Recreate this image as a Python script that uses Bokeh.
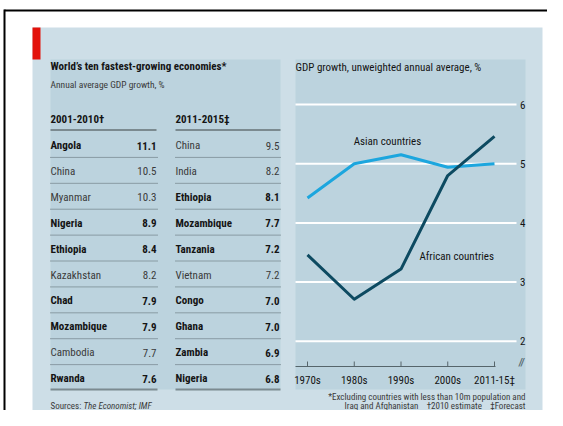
from bokeh.plotting import figure
from bokeh.models import Range1d, ColumnDataSource
from bokeh.core.properties import value
from bokeh.embed import file_html
from bokeh.resources import INLINE

# ---------------- data ----------------
left_countries = ["Angola", "China", "Myanmar", "Nigeria", "Ethiopia", "Kazakhstan",
                  "Chad", "Mozambique", "Cambodia", "Rwanda"]
left_values = [11.1, 10.5, 10.3, 8.9, 8.4, 8.2, 7.9, 7.9, 7.7, 7.6]
left_african = [True, False, False, True, True, False, True, True, False, True]

right_countries = ["China", "India", "Ethiopia", "Mozambique", "Tanzania", "Vietnam",
                   "Congo", "Ghana", "Zambia", "Nigeria"]
right_values = [9.5, 8.2, 8.1, 7.7, 7.2, 7.2, 7.0, 7.0, 6.9, 6.8]
right_african = [False, False, True, True, True, False, True, True, True, True]

periods = ["1970s", "1980s", "1990s", "2000s", "2011-15\u2021"]
asian = [4.42, 5.00, 5.15, 4.94, 5.00]
african = [3.46, 2.71, 3.22, 4.80, 5.46]
y_ticks = [2, 3, 4, 5, 6]

# ---------------- styles ----------------
FONT = value("'Roboto Condensed', 'DejaVu Sans Condensed', Roboto, sans-serif")
OUTER = "#cddee7"
INNER = "#bcd3de"
RED = "#e3120b"
ASIA_C = "#1ca6de"
AFR_C = "#0d4a61"
DARK = "#141414"
GREY_T = "#3a3a3a"
RULE = "#7b8a90"
NB = "\u00a0"

W, H = 547, 410
p = figure(width=W, height=H, output_backend="svg", toolbar_location=None,
           x_range=Range1d(0, W), y_range=Range1d(H, 0),
           x_axis_type=None, y_axis_type=None, min_border=0,
           background_fill_color="white", border_fill_color="white",
           outline_line_color=None)
p.xgrid.visible = False
p.ygrid.visible = False

# period index scale (chart), gdp scale, row scale (table)
px_per_period = 46.75
x0_period = 307.0
px_per_unit = 59.2
y_six = 104.0
row0, row_h = 145.0, 25.9
p.extra_x_ranges = {"per": Range1d((0 - x0_period) / px_per_period,
                                   (W - x0_period) / px_per_period)}
p.extra_y_ranges = {
    "gdp": Range1d(6 - (H - y_six) / px_per_unit, 6 + (y_six - 0) / px_per_unit),
    "rows": Range1d((H - row0) / row_h, (0 - row0) / row_h),
}

# ---------------- frame & panels ----------------
p.segment(x0=4, x1=W, y0=10, y1=10, line_color="black", line_width=2)
p.segment(x0=4, x1=4, y0=9, y1=H, line_color="black", line_width=2)
p.quad(left=32, right=542, top=27, bottom=H, fill_color=OUTER, line_color=None)
p.quad(left=32, right=40, top=27, bottom=59, fill_color=RED, line_color=None)
p.quad(left=[50, 295], right=[280, 525], top=[59, 59], bottom=[389, 389],
       fill_color=INNER, line_color=None)

# ---------------- table ----------------
p.text(x=[50], y=[66], text=["World\u2019s ten fastest-growing economies*"],
       text_font=FONT, text_font_size="11px", text_font_style="bold",
       text_color=DARK, text_baseline="middle")
p.text(x=[50], y=[83.5], text=["Annual average GDP growth, %"],
       text_font=FONT, text_font_size="9.5px", text_color=GREY_T, text_baseline="middle")
p.text(x=[50, 175], y=[119, 119], text=["2001-2010\u2020", "2011-2015\u2021"],
       text_font=FONT, text_font_size="11px", text_font_style="bold",
       text_color=DARK, text_baseline="middle")
p.segment(x0=[50, 175], x1=[156, 280], y0=[129.5, 129.5], y1=[129.5, 129.5],
          line_color=RULE, line_width=2)

rows = list(range(len(left_countries)))
for names, vals, afr, xl, xr in [(left_countries, left_values, left_african, 50, 156),
                                 (right_countries, right_values, right_african, 175, 279)]:
    for bold in (True, False):
        idx = [i for i in rows if afr[i] == bold]
        src = ColumnDataSource(dict(
            r=idx, name=[names[i] for i in idx], val=["%.1f" % vals[i] for i in idx]))
        style = "bold" if bold else "normal"
        col = DARK if bold else GREY_T
        p.text(x=xl, y="r", text="name", source=src, y_range_name="rows",
               text_font=FONT, text_font_size="11px", text_font_style=style,
               text_color=col, text_baseline="middle")
        p.text(x=xr, y="r", text="val", source=src, y_range_name="rows",
               text_font=FONT, text_font_size="11px", text_font_style=style,
               text_color=col, text_baseline="middle", text_align="right")
    seps = [i + 0.46 for i in rows[:-1]]
    p.segment(x0=xl, x1=xr + 1, y0=seps, y1=seps, y_range_name="rows",
              line_color="#56636a", line_width=1, line_dash="1 1")
    p.segment(x0=xl, x1=xr + 1, y0=[rows[-1] + 0.42], y1=[rows[-1] + 0.42],
              y_range_name="rows", line_color=RULE, line_width=2)

p.text(x=[50], y=[405], text=["Sources:"], text_font=FONT, text_font_size="9px",
       text_color=GREY_T, text_baseline="middle")
p.text(x=[83], y=[405], text=["The Economist; IMF"], text_font=FONT, text_font_size="9px",
       text_font_style="italic", text_color=GREY_T, text_baseline="middle")

# ---------------- chart ----------------
p.text(x=[295], y=[67], text=["GDP growth, unweighted annual average, %"],
       text_font=FONT, text_font_size="11px", text_color=DARK, text_baseline="middle")

grid_x0 = (295 - x0_period) / px_per_period
grid_x1 = (516 - x0_period) / px_per_period
p.segment(x0=grid_x0, x1=grid_x1, y0=y_ticks, y1=y_ticks,
          x_range_name="per", y_range_name="gdp", line_color="white", line_width=2)
p.text(x=(525 - x0_period) / px_per_period, y=y_ticks, text=[str(t) for t in y_ticks],
       x_range_name="per", y_range_name="gdp", text_font=FONT, text_font_size="11px",
       text_color=DARK, text_align="right", text_baseline="middle")

base = 6 - (366 - y_six) / px_per_unit
pidx = list(range(len(periods)))
p.segment(x0=grid_x0, x1=(495 - x0_period) / px_per_period, y0=base, y1=base,
          x_range_name="per", y_range_name="gdp", line_color="#56656b", line_width=1)
p.segment(x0=pidx, x1=pidx, y0=base, y1=base + 5 / px_per_unit,
          x_range_name="per", y_range_name="gdp", line_color="#56656b", line_width=1)
p.text(x=pidx, y=base - 14 / px_per_unit, text=periods,
       x_range_name="per", y_range_name="gdp", text_font=FONT, text_font_size="11px",
       text_color=DARK, text_align="center", text_baseline="middle")
p.text(x=[(521 - x0_period) / px_per_period], y=[base + 4 / px_per_unit], text=["//"],
       x_range_name="per", y_range_name="gdp", text_font=FONT, text_font_size="10px",
       text_font_style="bold italic", text_color="#56656b", text_align="center",
       text_baseline="middle")

p.line(x=pidx, y=asian, x_range_name="per", y_range_name="gdp",
       line_color=ASIA_C, line_width=3, line_join="round")
p.line(x=pidx, y=african, x_range_name="per", y_range_name="gdp",
       line_color=AFR_C, line_width=3, line_join="round")

p.text(x=[(387 - x0_period) / px_per_period], y=[6 - (141 - y_six) / px_per_unit],
       text=["Asian countries"], x_range_name="per", y_range_name="gdp",
       text_font=FONT, text_font_size="11px", text_color=DARK,
       text_align="center", text_baseline="middle")
p.text(x=[(419 - x0_period) / px_per_period], y=[6 - (256 - y_six) / px_per_unit],
       text=["African countries"], x_range_name="per", y_range_name="gdp",
       text_font=FONT, text_font_size="11px", text_color=DARK,
       text_align="left", text_baseline="middle")

p.text(x=[525, 525], y=[396, 405.5],
       text=["*Excluding countries with less than 10m population and",
             "Iraq and Afghanistan" + NB * 4 + "\u20202010 estimate" + NB * 4 + "\u2021Forecast"],
       text_font=FONT, text_font_size="9px", text_color=GREY_T,
       text_align="right", text_baseline="middle")

open("out.html", "w").write(file_html(p, INLINE))
